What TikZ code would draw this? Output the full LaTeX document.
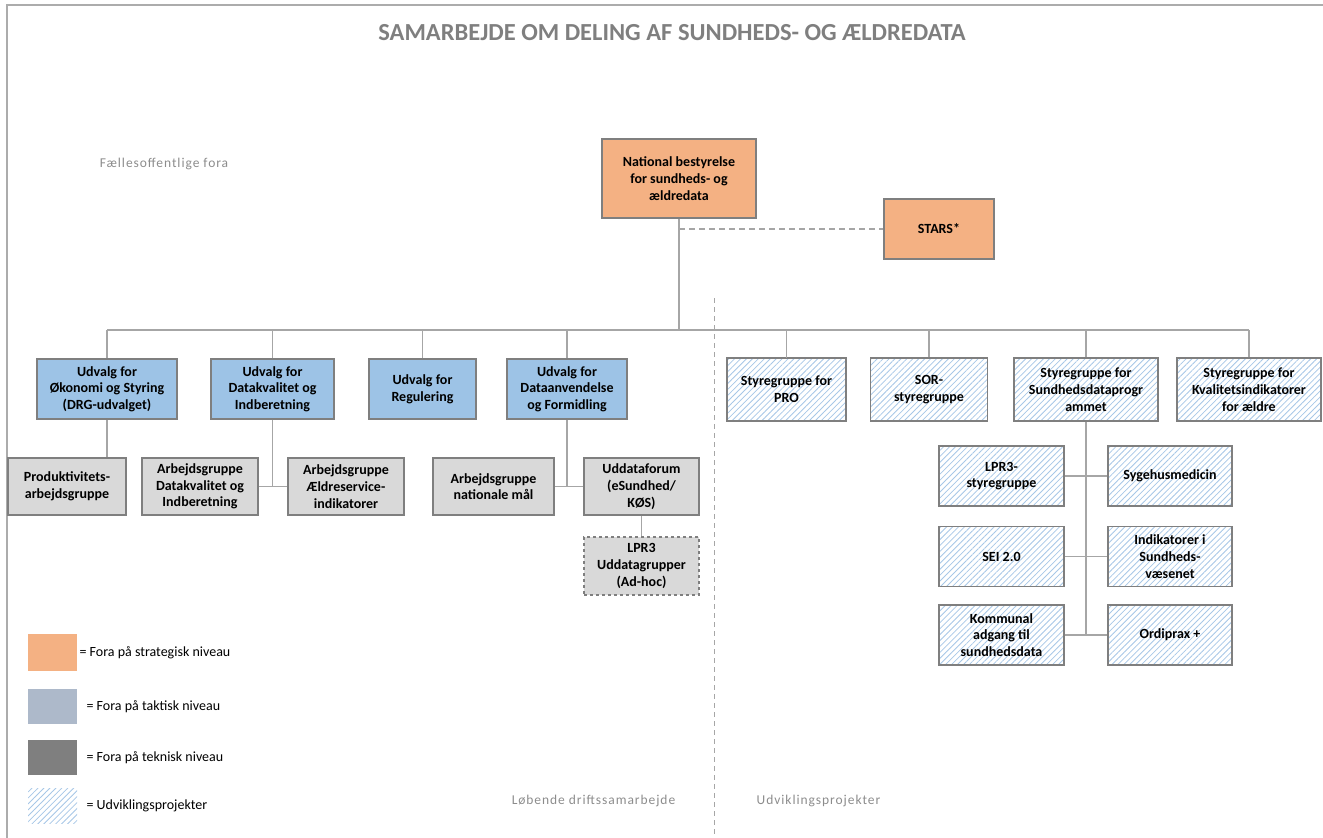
\documentclass[tikz,border=0pt]{standalone}
\usepackage{fontspec}
\setmainfont{Carlito}
\usepackage{xcolor}
\usetikzlibrary{patterns.meta}

\definecolor{orangebox}{HTML}{F4B183}
\definecolor{bluebox}{HTML}{9DC3E6}
\definecolor{graybox}{HTML}{D9D9D9}
\definecolor{taktgray}{HTML}{ADB9CA}
\definecolor{darkbox}{HTML}{7F7F7F}
\definecolor{hatchblue}{HTML}{A7C7E7}
\definecolor{boxline}{HTML}{7F7F7F}
\definecolor{linegray}{HTML}{A6A6A6}
\definecolor{titlegray}{HTML}{7F7F7F}
\definecolor{labelgray}{HTML}{8C8C8C}

\begin{document}
\begin{tikzpicture}[x=1pt,y=-1pt,
	size/.style 2 args={minimum width=#1,minimum height=#2},
	box/.style={draw=boxline,line width=1.2pt,align=center,inner sep=1pt,
		font=\bfseries\fontsize{14}{16.7}\selectfont},
	strategisk/.style={box,fill=orangebox},
	taktisk/.style={box,fill=bluebox},
	teknisk/.style={box,fill=graybox},
	hatch/.style={preaction={fill=white},
		pattern={Lines[angle=45,distance=4.2pt,line width=0.8pt]},pattern color=hatchblue},
	udvikling/.style={box,hatch},
	forbind/.style={draw=linegray,line width=1.3pt},
	omraade/.style={text=labelgray,font=\fontsize{13.5}{16}\selectfont\addfontfeature{LetterSpace=7}},
	legtekst/.style={anchor=west,font=\fontsize{14}{16}\selectfont}]
	\useasboundingbox (0,0) rectangle (1323,838);
	% ramme og titel
	\draw[gray!65,line width=2pt] (7,838) -- (7,5) -- (1323,5);
	\node[text=titlegray,font=\bfseries\fontsize{24.5}{28}\selectfont] (titel) at (672,33) {SAMARBEJDE OM DELING AF SUNDHEDS- OG ÆLDREDATA};
	% strategisk niveau
	\node[strategisk,size={154}{79}] (natl) at (679,178.5) {National bestyrelse\\for sundheds- og\\ældredata};
	\node[strategisk,size={110}{60}] (stars) at (939,229) {STARS*};
	% udvalg
	\node[taktisk,size={140}{60}] (oko) at (107,389) {Udvalg for\\Økonomi og Styring\\(DRG-udvalget)};
	\node[taktisk,size={123}{60}] (dkv) at (272.5,389) {Udvalg for\\Datakvalitet og\\Indberetning};
	\node[taktisk,size={107}{60}] (reg) at (422.5,389) {Udvalg for\\Regulering};
	\node[taktisk,size={120}{60}] (dan) at (567,389) {Udvalg for\\Dataanvendelse\\og Formidling};
	% styregrupper
	\node[udvikling,size={119}{63}] (pro) at (786.5,389.5) {Styregruppe for\\PRO};
	\node[udvikling,size={117}{63}] (sor) at (929,389.5) {SOR-\\styregruppe};
	\node[udvikling,size={144}{63}] (sdp) at (1086,389.5) {Styregruppe for\\Sundhedsdataprogr\\ammet};
	\node[udvikling,size={144}{63}] (kval) at (1249,389.5) {Styregruppe for\\Kvalitetsindikatorer\\for ældre};
	% arbejdsgrupper
	\node[teknisk,size={118}{57}] (prod) at (67,486.5) {Produktivitets-\\arbejdsgruppe};
	\node[teknisk,size={116}{57}] (agdk) at (200,486.5) {Arbejdsgruppe\\Datakvalitet og\\Indberetning};
	\node[teknisk,size={116}{57}] (agae) at (346,486.5) {Arbejdsgruppe\\Ældreservice-\\indikatorer};
	\node[teknisk,size={121}{57}] (agnm) at (493.5,486.5) {Arbejdsgruppe\\nationale mål};
	\node[teknisk,size={115}{57}] (udf) at (641.5,486.5) {Uddataforum\\(eSundhed/\\KØS)};
	\node[teknisk,dashed,size={115}{58}] (lpru) at (641.5,566) {LPR3\\Uddatagrupper\\(Ad-hoc)};
	% projekter under sundhedsdataprogrammet
	\node[udvikling,size={125}{60}] (lprs) at (1001.5,476) {LPR3-\\styregruppe};
	\node[udvikling,size={124}{60}] (syg) at (1170,476) {Sygehusmedicin};
	\node[udvikling,size={125}{60}] (sei) at (1001.5,556.5) {SEI 2.0};
	\node[udvikling,size={124}{60}] (ind) at (1170,556.5) {Indikatorer i\\Sundheds-\\væsenet};
	\node[udvikling,size={125}{60}] (kom) at (1001.5,635) {Kommunal\\adgang til\\sundhedsdata};
	\node[udvikling,size={124}{60}] (ord) at (1170,635) {Ordiprax +};
	% forbindelser
	\coordinate (busL) at (107,330);
	\coordinate (busR) at (1249,330);
	\draw[forbind] (busL) -- (busR);
	\draw[forbind] (natl.south) -- (natl.south |- busL);
	\draw[forbind,dash pattern=on 6pt off 4pt] (natl.south |- stars.west) -- (stars.west);
	\foreach \n in {oko,dkv,reg,dan,pro,sor,sdp,kval}
		\draw[forbind] (\n.north) -- (\n.north |- busL);
	\draw[forbind] (oko.south) -- (oko.south |- prod.north);
	\draw[forbind] (dkv.south) -- (dkv.south |- agdk.east);
	\draw[forbind] (agdk.east) -- (agae.west);
	\draw[forbind] (dan.south) -- (dan.south |- agnm.east);
	\draw[forbind] (agnm.east) -- (udf.west);
	\draw[forbind] (udf.south) -- (lpru.north);
	\draw[forbind] (sdp.south) -- (sdp.south |- kom.east);
	\foreach \l/\r in {lprs/syg,sei/ind,kom/ord}
		\draw[forbind] (\l.east) -- (\r.west);
	% skillelinje
	\coordinate (skilleTop) at (714,298);
	\coordinate (skilleBund) at (714,838);
	\draw[linegray,line width=1pt,dash pattern=on 5pt off 4pt] (skilleTop) -- (skilleBund);
	% omraader
	\node[omraade] (faelles) at (164,164) {Fællesoffentlige fora};
	\node[omraade] (drift) at (593.5,801) {Løbende driftssamarbejde};
	\node[omraade] (udv) at (818.5,801) {Udviklingsprojekter};
	% signaturforklaring
	\node[fill=orangebox,size={49}{37},inner sep=0pt,anchor=north west] (legstrat) at (28,634) {};
	\node[fill=taktgray,size={49}{35},inner sep=0pt,anchor=north west] (legtakt) at (28,689) {};
	\node[fill=darkbox,size={49}{35},inner sep=0pt,anchor=north west] (legtek) at (28,740) {};
	\node[hatch,size={49}{35},inner sep=0pt,anchor=north west] (legudv) at (28,788) {};
	\node[legtekst,inner sep=2pt] at (legstrat.east) {= Fora på strategisk niveau};
	\node[legtekst,xshift=7pt,inner sep=2pt] at (legtakt.east) {= Fora på taktisk niveau};
	\node[legtekst,xshift=7pt,inner sep=2pt] at (legtek.east) {= Fora på teknisk niveau};
	\node[legtekst,xshift=7pt,inner sep=2pt] at (legudv.east) {= Udviklingsprojekter};
\end{tikzpicture}
\end{document}
